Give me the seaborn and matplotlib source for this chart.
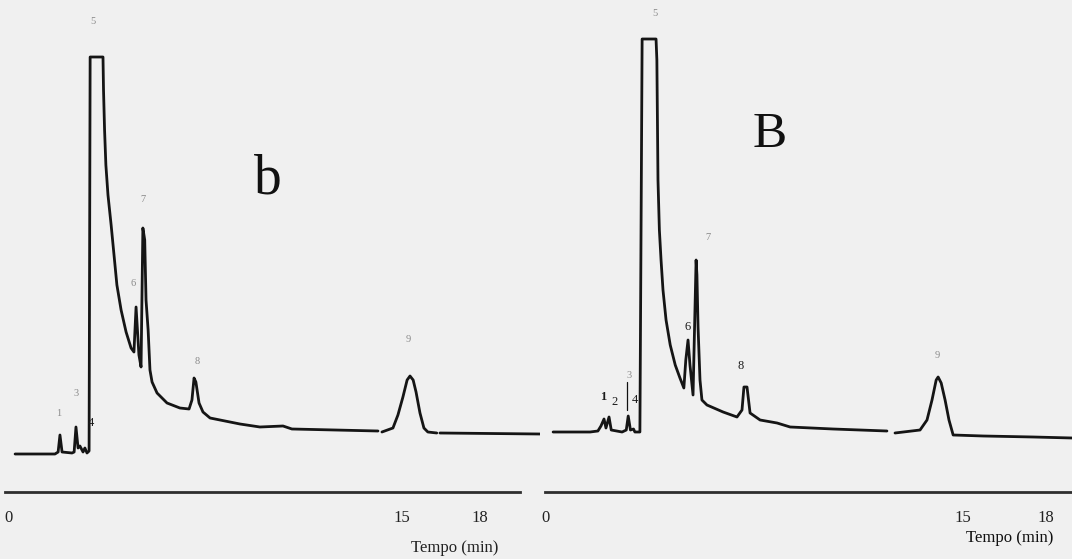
import matplotlib
matplotlib.use("Agg")
import matplotlib.pyplot as plt
import numpy as np
import pandas as pd
import seaborn as sns

# ---- chromatogram b (left): time in min, detector signal in arbitrary units ----
b_time = [0.27, 1.79, 1.91, 1.98, 2.06, 2.44, 2.52, 2.59, 2.67, 2.74, 2.86, 2.93, 3.01, 3.09,
          3.13, 3.62, 3.64, 3.68, 3.73, 3.81, 3.93, 4.04, 4.15, 4.31, 4.50, 4.69, 4.80,
          4.88, 4.99, 5.07,
          5.14, 5.21, 5.26, 5.34, 5.41, 5.49, 5.68, 6.06, 6.55, 6.90, 7.01, 7.09, 7.16, 7.28,
          7.43, 7.70, 8.84, 9.60, 10.48, 10.82, 14.10,
          14.25, 14.67, 14.86, 15.05, 15.21, 15.32, 15.44, 15.55, 15.70, 15.85, 16.00, 16.34,
          16.46, 20.27]
b_signal = [9.5, 9.5, 10.0, 14.25, 10.0, 9.75, 10.0, 16.25, 11.0, 11.5, 10.0, 11.0, 9.75, 10.25,
            108.75, 108.75, 100.5, 90.5, 81.75, 74.25, 66.75, 59.25, 51.75, 45.5, 40.0, 36.0, 35.0,
            46.25, 34.25, 31.25,
            66.0, 63.0, 48.0, 40.5, 30.5, 27.5, 24.75, 22.25, 21.0, 20.75, 23.0, 28.5, 27.5, 22.25,
            20.0, 18.5, 17.0, 16.25, 16.5, 15.75, 15.25,
            15.0, 16.0, 19.25, 23.75, 28.0, 29.0, 28.0, 25.0, 19.75, 16.0, 15.0, 14.75,
            14.75, 14.5]
b_part = [0] * 51 + [1] * 12 + [2] * 2

# ---- chromatogram B (right) ----
B_time = [0.27, 1.60, 1.88, 1.99, 2.10, 2.17, 2.28, 2.36, 2.75, 2.90, 2.97, 3.05, 3.16, 3.21,
          3.39, 3.47, 3.97, 4.00, 4.02, 4.04, 4.09, 4.15, 4.22, 4.33, 4.48, 4.66, 4.83, 4.97,
          5.04, 5.12, 5.19, 5.30,
          5.41, 5.44, 5.48, 5.55, 5.62, 5.80, 6.38, 6.88, 7.06, 7.13, 7.24, 7.35, 7.71, 8.32,
          8.79, 10.33, 12.27,
          12.56, 13.46, 13.71, 13.89, 14.04, 14.11, 14.22, 14.36, 14.50, 14.65, 15.73, 17.53,
          18.93]
B_signal = [15.0, 15.0, 15.25, 16.5, 18.25, 16.0, 18.75, 15.5, 15.0, 15.5, 19.0, 15.5, 15.75, 15.0,
            15.0, 113.25, 113.25, 108.0, 93.0, 78.0, 65.5, 58.0, 50.5, 43.0, 36.75, 31.75, 28.5, 26.0,
            33.0, 38.0, 31.75, 24.25,
            58.0, 54.25, 41.25, 28.0, 23.0, 21.75, 20.0, 18.75, 20.5, 26.25, 26.25, 19.75, 18.0, 17.25,
            16.25, 15.75, 15.25,
            14.75, 15.5, 18.0, 23.0, 28.0, 28.75, 27.25, 23.0, 18.0, 14.25, 14.0, 13.75,
            13.5]
B_part = [0] * 49 + [1] * 13

# ---- peak numbers: (label, time, level) ----
b_peak_label = ["1", "3", "4", "5", "6", "7", "8", "9"]
b_peak_time = [1.94, 2.59, 3.16, 3.24, 4.76, 5.14, 7.20, 15.24]
b_peak_level = [19.75, 24.75, 17.25, 117.5, 52.25, 73.0, 32.75, 38.0]
b_peak_dark = [False, False, True, False, False, False, False, False]

B_peak_label = ["1", "2", "3", "4", "5", "6", "7", "8", "9"]
B_peak_time = [2.06, 2.49, 3.00, 3.20, 3.93, 5.12, 5.84, 7.02, 14.07]
B_peak_level = [23.75, 22.5, 29.25, 23.0, 119.5, 41.25, 63.5, 31.5, 34.25]
B_peak_dark = [True, True, False, True, False, True, False, True, False]

tick_values = [0, 15, 18]
tick_labels = ["0", "15", "18"]

sns.set_theme(style="white")
plt.rcParams["font.family"] = ["Liberation Serif", "DejaVu Serif"]

bg = "#f0f0f0"
fig = plt.figure(figsize=(10.72, 5.59), dpi=100, facecolor=bg)
bottom = 67 / 559
height = 492 / 559
axL = fig.add_axes([0, bottom, 540 / 1072, height])
axR = fig.add_axes([540 / 1072, bottom, 532 / 1072, height])

panels = [
    (axL, b_time, b_signal, b_part, (-0.305, 20.274), (-0.11, 19.5),
     b_peak_label, b_peak_time, b_peak_level, b_peak_dark),
    (axR, B_time, B_signal, B_part, (-0.201, 18.922), (-0.02, 18.93),
     B_peak_label, B_peak_time, B_peak_level, B_peak_dark),
]

for ax, t, s, part, xlim, spine_span, lab, lt, ll, dark in panels:
    df = pd.DataFrame({"time": t, "signal": s, "part": part})
    sns.lineplot(data=df, x="time", y="signal", units="part", estimator=None,
                 sort=False, color="#151515", linewidth=2.0, legend=False, ax=ax)
    ax.set_facecolor("none")
    ax.set_xlim(*xlim)
    ax.set_ylim(0, 123)
    ax.set_xlabel("")
    ax.set_ylabel("")
    ax.set_yticks([])
    for side in ("left", "right", "top"):
        ax.spines[side].set_visible(False)
    ax.spines["bottom"].set_color("#2e2e2e")
    ax.spines["bottom"].set_linewidth(2.0)
    ax.spines["bottom"].set_bounds(*spine_span)
    ax.set_xticks(tick_values)
    ax.set_xticklabels(tick_labels)
    ax.tick_params(axis="x", length=0, pad=13, labelsize=12, labelcolor="#222222")
    for name, x, y, d in zip(lab, lt, ll, dark):
        ax.text(x, y, name, ha="center", va="center",
                fontsize=9 if d else 7.5,
                color="#1a1a1a" if d else "#8a8a8a",
                fontweight="bold" if (d and name in ("1",)) else "normal")

# marker bar between peaks 3 and 4 of chromatogram B
axR.plot([2.93, 2.93], [20.5, 27.5], color="#111111", linewidth=0.9)

# panel letters
axL.text(9.91, 78.0, "b", fontsize=40, ha="center", va="center", color="#111111")
axR.text(8.07, 89.25, "B", fontsize=37, ha="center", va="center", color="#111111")

# axis titles
fig.text(455 / 1072, 1 - 548 / 559, "Tempo (min)", fontsize=12, ha="center", va="center",
         color="#222222")
fig.text(1010 / 1072, 1 - 538 / 559, "Tempo (min)", fontsize=12, ha="center", va="center",
         color="#111111")

fig.savefig("out.png", dpi=100, facecolor=bg)
